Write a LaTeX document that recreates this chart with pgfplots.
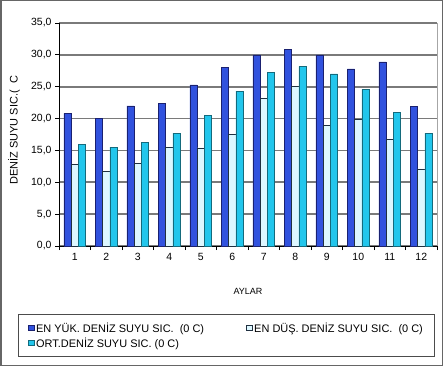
\documentclass[border=0pt]{standalone}
\usepackage{pgfplots}
\pgfplotsset{compat=1.18}
\usepackage{fontspec}
\setmainfont{Liberation Sans}
\definecolor{cblue}{HTML}{3152DE}
\definecolor{cblueedge}{HTML}{1A2170}
\definecolor{cwhite}{HTML}{DDF7FF}
\definecolor{cwhiteedge}{HTML}{203040}
\definecolor{ccyan}{HTML}{22C6EC}
\definecolor{ccyanedge}{HTML}{146A7C}
\definecolor{cgrid}{HTML}{7A7A7A}
\pgfplotstableread{
m yuk dus ort
1 20.8 12.8 16.0
2 20.0 11.7 15.5
3 22.0 13.0 16.2
4 22.4 15.5 17.7
5 25.3 15.4 20.5
6 28.0 17.5 24.3
7 30.0 23.2 27.2
8 30.9 25.0 28.2
9 30.0 18.9 27.0
10 27.8 19.9 24.6
11 28.9 16.7 21.0
12 21.9 12.1 17.7
}\data
\begin{document}
\begin{tikzpicture}[x=1bp,y=1bp]
\draw[line width=1.5bp, draw=gray!80!black, fill=white] (0.75,0.75) rectangle (442.25,365.25);
\begin{axis}[
  at={(59bp,120bp)}, anchor=south west,
  scale only axis, width=378bp, height=223bp,
  ybar=0pt, bar width=7.3bp,
  xmin=0.5, xmax=12.5, ymin=0, ymax=35,
  xtick={0.5,1.5,...,12.5}, x tick label as interval,
  xticklabels={1,2,3,4,5,6,7,8,9,10,11,12},
  ytick={0,5,...,35},
  yticklabel style={/pgf/number format/.cd, fixed, fixed zerofill, precision=1, use comma},
  /pgf/number format/assume math mode=true,
  ticklabel style={font=\fontsize{10.5}{12}\selectfont},
  axis x line*=bottom, axis y line*=left,
  axis line style={black, line width=0.8bp},
  tick align=outside, major tick length=4bp,
  tick style={black, line width=0.8bp},
  ymajorgrids, major grid style={cgrid, line width=1.8bp},
  extra x ticks={12.5}, extra x tick labels={},
  extra x tick style={grid=major, major grid style={gray!70, line width=0.8bp}, major tick length=0pt},
  xlabel={AYLAR}, ylabel={DENİZ SUYU SIC.(\,\, C},
  xlabel style={at={(axis description cs:0.5,-0.202)}, anchor=center, font=\fontsize{9}{11}\selectfont},
  ylabel style={at={(axis description cs:-0.119,0.52)}, anchor=center, font=\fontsize{11}{12}\selectfont},
  legend columns=2, legend cell align=left,
  legend style={at={(axis description cs:0.443,-0.305)}, anchor=north,
    draw=gray!60!black, line width=1bp, font=\fontsize{11}{17}\selectfont,
    /tikz/every even column/.append style={column sep=40bp},
    inner xsep=10bp, inner ysep=6bp},
  legend image code/.code={\draw[#1, line width=0.6bp] (0bp,-2.5bp) rectangle (5.5bp,3bp);},
]
\addplot[fill=cblue, draw=cblueedge, line width=0.6bp] table[x=m, y=yuk] {\data};
\addplot[fill=cwhite, draw=cwhiteedge, line width=0.6bp] table[x=m, y=dus] {\data};
\addplot[fill=ccyan, draw=ccyanedge, line width=0.6bp] table[x=m, y=ort] {\data};
\legend{EN YÜK. DENİZ SUYU SIC.\ \ (0 C),EN DÜŞ. DENİZ SUYU SIC.\ \ (0 C),ORT.DENİZ SUYU SIC. (0 C)}
\end{axis}
\end{tikzpicture}
\end{document}
